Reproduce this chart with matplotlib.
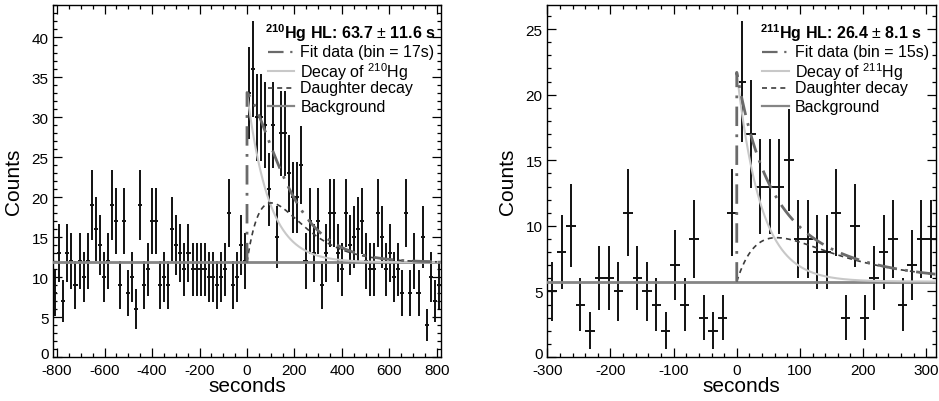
import numpy as np
import matplotlib
matplotlib.use("Agg")
import matplotlib.pyplot as plt
import matplotlib.transforms as mtransforms
from matplotlib.ticker import MultipleLocator

plt.rcParams['font.family'] = ['Liberation Sans', 'DejaVu Sans']
plt.rcParams['mathtext.fontset'] = 'custom'
plt.rcParams['mathtext.rm'] = 'Liberation Sans'
plt.rcParams['mathtext.bf'] = 'Liberation Sans:bold'
plt.rcParams['mathtext.it'] = 'Liberation Sans:italic'
plt.rcParams['axes.unicode_minus'] = False

# ---- 210Hg decay-curve histogram (17 s bins from -816 s) ----
hg210_bin = 17
hg210_first_edge = -816
hg210_counts = [
    8, 13, 7, 13, 12, 9, 12, 10, 12, 19, 16, 14, 10, 12, 19, 17, 9, 17, 8, 10,
    6, 19, 9, 11, 17, 17, 9, 10, 9, 16, 14, 13, 11, 13, 11, 11, 11, 11, 10, 10,
    9, 10, 11, 18, 9, 10, 14, 12, 33, 36, 30, 30, 29, 21, 29, 15, 28, 28, 23, 20,
    20, 24, 12, 17, 13, 17, 9, 13, 18, 18, 13, 11, 18, 14, 15, 16, 17, 12, 11, 11,
    18, 15, 11, 13, 10, 11, 8, 18, 8, 12, 8, 15, 4, 10, 7, 9,
]
hg210_halflife = 63.7
hg210_halflife_err = 11.6
hg210_background = 11.85
hg210_parent_amp = 21.25
hg210_daughter_halflife = 78.0
hg210_daughter_amp = 100.0
hg210_fit_end = 800

# ---- 211Hg decay-curve histogram (15 s bins from -300 s) ----
hg211_bin = 15
hg211_first_edge = -300
hg211_counts = [
    5, 8, 10, 4, 2, 6, 6, 5, 11, 6, 5, 4, 2, 7, 4, 9, 3, 2, 3, 11,
    21, 17, 13, 13, 13, 15, 9, 9, 8, 8, 11, 3, 10, 3, 6, 8, 9, 4, 7, 9, 9,
]
hg211_halflife = 26.4
hg211_halflife_err = 8.1
hg211_background = 5.75
hg211_parent_amp = 15.95
hg211_daughter_halflife = 80.0
hg211_daughter_amp = 8.63
hg211_fit_end = 315

FIT_COLOR = '#6a6a6a'
DECAY_COLOR = '#c8c8c8'
DAUGHTER_COLOR = '#3c3c3c'
BG_COLOR = '#858585'

fig = plt.figure(figsize=(9.39, 4.02), dpi=100)
W, H = 939.0, 402.0


def frame_axes(x0, x1, ytop, ybot):
    return fig.add_axes([x0 / W, 1 - ybot / H, (x1 - x0) / W, (ybot - ytop) / H])


def draw_panel(ax, counts, first_edge, bw, bg, amp, hl, d_hl, d_amp, fit_end,
               xlim, xmajor, xminor, isotope, hl_err):
    counts = np.asarray(counts, dtype=float)
    centers = first_edge + bw * (np.arange(len(counts)) + 0.5)
    errs = np.sqrt(counts)

    ax.errorbar(centers, counts, xerr=bw / 2, yerr=errs, fmt='none',
                ecolor='#111111', elinewidth=1.4, capsize=0, zorder=2)

    lam1 = np.log(2) / hl
    lam2 = np.log(2) / d_hl
    t = np.linspace(0, fit_end, 600)
    parent = amp * np.exp(-lam1 * t)
    daughter = d_amp * (np.exp(-lam2 * t) - np.exp(-lam1 * t))
    total = bg + parent + daughter

    ax.axhline(bg, color=BG_COLOR, lw=2.0, zorder=3)
    ax.plot(t, bg + parent, color=DECAY_COLOR, lw=1.5, zorder=4)
    ax.plot(t, bg + daughter, color=DAUGHTER_COLOR, lw=1.2,
            linestyle=(0, (3, 2.5)), zorder=5)
    ax.plot(np.r_[0, t], np.r_[bg, total], color=FIT_COLOR, lw=2.0,
            linestyle=(0, (7, 3, 1, 3)), zorder=6)

    ymax = 1.05 * np.max(counts + errs)
    ax.set_xlim(*xlim)
    ax.set_ylim(0, ymax)

    ax.xaxis.set_major_locator(MultipleLocator(xmajor))
    ax.xaxis.set_minor_locator(MultipleLocator(xminor))
    ax.yaxis.set_major_locator(MultipleLocator(5))
    ax.yaxis.set_minor_locator(MultipleLocator(1))
    ax.tick_params(which='both', direction='in', top=True, right=True,
                   labelsize=11, pad=3.5, width=0.9)
    ax.tick_params(axis='x', which='both', pad=4.5)
    ax.tick_params(which='major', length=6.5)
    ax.tick_params(which='minor', length=3.2)
    for s in ax.spines.values():
        s.set_linewidth(1.0)

    # lift the y "0" label a touch so it clears the x tick labels
    fig.canvas.draw()
    shift = mtransforms.ScaledTranslation(0, 3.5 / 72, fig.dpi_scale_trans)
    for lbl in ax.get_yticklabels():
        if lbl.get_position()[1] == 0:
            lbl.set_transform(lbl.get_transform() + shift)

    ax.set_xlabel('seconds', fontsize=15)
    ax.set_ylabel('Counts', fontsize=15)
    ax.yaxis.set_label_coords(-0.078, 0.5)
    ax.xaxis.set_label_coords(0.5, -0.055)

    # legend block
    tr = ax.transAxes
    ax.text(0.547, 0.9225,
            r'$^{\mathbf{%s}}$Hg HL: %.1f $\pm$ %.1f s' % (isotope, hl, hl_err),
            transform=tr, fontsize=11.5, fontweight='bold', va='center', ha='left')
    rows = [
        ('Fit data (bin = %ds)' % bw, FIT_COLOR, (0, (7, 3, 1, 3)), 1.6),
        (r'Decay of $^{%s}$Hg' % isotope, DECAY_COLOR, '-', 1.5),
        ('Daughter decay', DAUGHTER_COLOR, (0, (3, 2.5)), 1.2),
        ('Background', BG_COLOR, '-', 1.6),
    ]
    ys = [0.866, 0.812, 0.764, 0.712]
    for (label, color, ls, lw), y in zip(rows, ys):
        ax.plot([0.553, 0.622], [y, y], transform=tr, color=color, ls=ls, lw=lw,
                clip_on=False, zorder=7)
        ax.text(0.638, y, label, transform=tr, fontsize=11.5, va='center', ha='left')


ax1 = frame_axes(53.3, 440.7, 5.7, 358.0)
draw_panel(ax1, hg210_counts, hg210_first_edge, hg210_bin, hg210_background,
           hg210_parent_amp, hg210_halflife, hg210_daughter_halflife,
           hg210_daughter_amp, hg210_fit_end, (-816, 816), 200, 50, '210',
           hg210_halflife_err)

ax2 = frame_axes(547.3, 935.7, 5.7, 358.0)
draw_panel(ax2, hg211_counts, hg211_first_edge, hg211_bin, hg211_background,
           hg211_parent_amp, hg211_halflife, hg211_daughter_halflife,
           hg211_daughter_amp, hg211_fit_end, (-300, 315), 100, 20, '211',
           hg211_halflife_err)

fig.savefig('out.png', dpi=100)
